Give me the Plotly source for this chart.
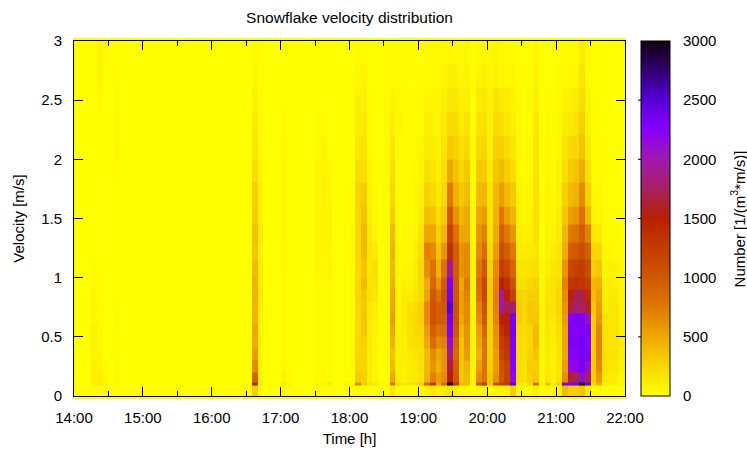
import plotly.graph_objects as go
from datetime import datetime, timedelta

# Velocity band edges in m/s
velocity_edges = [-0.0125, 0.0875, 0.1125, 0.2, 0.3, 0.4, 0.5, 0.6, 0.7, 0.8, 0.9, 1.0, 1.15, 1.3, 1.45, 1.6, 1.8, 2.0, 2.2, 2.4, 2.6, 2.8, 3.0125]
n_columns = 96
start = datetime(2020, 1, 1, 14, 0)
time_edges = [(start + timedelta(minutes=5 * i)).strftime("%Y-%m-%d %H:%M") for i in range(n_columns + 1)]

# Column index (5 minute bins from 14:00) -> number per velocity band, bottom to top
columns = {
    3: [10,90,100,90,70,80,80,40,60,50,30,20,15,15,10,10,8,8,8,10,10,5],
    4: [10,110,120,80,60,50,30,30,25,20,15,15,12,10,10,10,10,10,15,30,60,70],
    5: [5,80,50,20,15,10,5,5,5,5,5,5,5,5,5,5,5,5,5,5,10,30],
    7: [5,50,45,25,20,20,20,30,20,15,10,10,10,10,10,15,20,55,40,30,20,10],
    31: [300,1450,900,650,550,480,500,450,420,450,450,400,350,380,320,300,220,150,130,80,50,30],
    32: [30,130,90,80,70,70,80,90,110,130,120,120,100,120,100,110,60,30,25,25,15,10],
    36: [20,130,70,40,30,30,30,30,30,30,30,40,40,60,60,70,70,50,30,15,10,5],
    37: [5,80,25,10,10,5,5,5,5,5,5,5,5,5,5,5,5,5,5,5,5,5],
    42: [5,60,30,25,25,25,30,30,30,35,40,50,60,60,60,60,50,30,20,10,5,5],
    43: [5,90,50,40,35,35,40,40,40,40,40,60,70,80,80,90,80,60,20,10,5,5],
    44: [5,130,40,25,25,25,30,30,25,25,30,60,50,60,70,50,40,10,5,5,5,5],
    47: [5,60,15,10,5,5,5,5,5,5,5,10,20,15,10,5,5,5,5,5,5,5],
    48: [5,50,30,30,30,30,30,30,30,30,30,30,30,30,20,20,15,10,10,5,5,5],
    49: [40,650,300,280,260,250,240,230,250,260,250,240,250,250,260,270,220,150,120,90,50,30],
    50: [20,300,280,260,260,280,350,350,320,350,400,350,400,420,350,300,220,180,130,100,60,30],
    51: [5,180,130,120,120,130,130,140,150,200,180,150,180,150,100,80,60,40,30,20,10,5],
    52: [5,120,70,60,60,70,80,80,100,150,180,200,130,60,40,30,20,15,10,10,5,5],
    53: [5,30,15,10,10,10,10,10,10,10,10,5,5,5,5,5,5,5,5,5,5,5],
    54: [5,30,20,20,30,30,30,30,30,30,30,30,30,30,30,30,30,30,25,20,20,10],
    55: [150,800,500,400,350,450,500,550,500,500,450,400,450,400,300,250,200,150,100,60,30,20],
    56: [30,250,120,100,90,90,90,80,70,60,60,60,60,50,40,30,25,30,40,40,35,25],
    57: [20,170,90,90,100,100,110,130,130,120,90,70,50,40,30,25,25,25,30,25,20,20],
    58: [20,180,110,120,130,180,180,200,180,120,80,60,40,30,25,20,20,20,20,15,10,10],
    59: [30,220,140,150,170,200,230,230,210,160,130,120,100,80,60,50,40,30,25,20,15,10],
    60: [30,320,180,200,200,210,250,280,270,230,240,250,210,170,120,90,70,50,40,30,20,15],
    61: [80,900,450,400,400,500,550,650,650,520,480,620,700,500,380,280,200,130,100,70,40,30],
    62: [150,1300,700,600,650,850,950,1050,1050,1000,900,800,650,500,350,230,170,120,90,70,40,30],
    63: [80,500,550,450,500,650,800,950,950,800,600,450,350,280,220,150,110,90,70,60,40,25],
    64: [120,900,650,600,600,700,850,950,1000,1050,950,800,600,420,320,240,200,170,130,100,60,40],
    65: [200,3000,1500,1650,1850,2100,2300,2350,2500,2350,2300,1900,1350,1200,1000,750,500,320,230,150,90,50],
    66: [80,1300,1000,950,850,900,1000,1050,1050,1000,1000,950,950,800,600,450,350,280,220,150,90,40],
    67: [50,450,350,350,350,350,420,500,550,550,500,600,600,500,400,320,260,200,130,90,50,30],
    68: [50,400,400,450,550,600,600,650,650,700,750,650,650,500,500,400,320,240,180,110,70,40],
    69: [15,80,80,80,70,70,70,70,60,60,60,60,55,50,40,30,30,30,25,20,15,10],
    70: [40,1050,650,550,450,500,550,650,700,800,850,750,650,600,500,400,320,240,180,130,70,30],
    71: [70,1300,800,800,800,800,900,1000,1050,1150,1150,1000,850,700,550,420,320,260,200,150,100,50],
    72: [30,350,350,300,280,280,280,290,300,320,320,290,250,200,170,170,140,110,90,80,60,45],
    73: [50,1100,600,550,550,600,620,680,700,720,700,650,550,480,440,400,340,280,220,180,100,60],
    74: [60,1250,1000,1050,1150,1250,1350,1500,2000,2000,1500,1250,1100,950,750,550,400,280,200,130,60,30],
    75: [60,1300,1200,1200,1300,1350,1450,1500,1700,1500,1350,1150,950,750,550,400,300,220,150,100,50,30],
    76: [300,2450,2150,2250,2300,2300,2350,2350,1800,1200,1050,900,750,600,450,320,230,150,100,70,40,20],
    77: [30,150,220,220,230,230,240,300,300,280,200,170,140,110,90,70,50,40,40,30,20,15],
    78: [15,120,180,180,190,200,220,230,250,250,200,170,120,90,60,45,30,20,15,15,10,10],
    79: [40,250,280,300,270,250,260,330,330,280,240,180,140,100,80,60,40,30,25,25,15,10],
    80: [100,850,330,300,350,400,400,350,310,290,280,200,170,200,190,180,170,160,140,100,70,50],
    81: [10,60,50,50,55,60,65,75,75,70,60,50,30,20,15,10,10,5,5,5,5,5],
    82: [40,380,150,130,130,150,160,170,180,170,150,110,90,80,70,60,50,40,30,20,15,10],
    83: [20,130,90,90,100,110,120,140,170,170,170,150,110,70,50,30,20,15,10,8,5,5],
    84: [60,280,180,170,180,190,210,230,260,250,220,180,160,130,110,90,80,60,50,40,25,15],
    85: [400,2300,650,550,500,500,500,550,600,650,700,600,480,420,330,280,210,170,120,80,40,20],
    86: [300,2300,1600,2150,2250,2300,2300,2250,1650,1500,1300,1150,950,750,550,400,320,240,150,100,50,30],
    87: [300,2350,1700,2200,2250,2300,2250,2300,1800,1700,1350,1200,1000,800,600,450,360,260,180,120,60,30],
    88: [350,3000,2100,2300,2300,2350,2300,2300,1750,1700,1300,1250,1100,950,800,650,480,360,280,220,170,120],
    89: [150,2400,1800,2100,2300,2250,2300,2100,1600,1400,1250,1100,950,700,420,280,200,130,90,60,30,20],
    90: [40,250,300,300,300,300,300,300,320,400,420,300,250,150,80,60,40,30,20,15,10,5],
    91: [50,450,550,650,700,700,680,600,550,500,450,350,250,130,70,50,30,20,15,10,5,5],
    92: [15,100,130,180,200,200,200,170,130,100,90,70,50,30,20,15,10,5,5,5,5,5],
    93: [15,100,130,160,170,170,160,150,150,130,110,90,50,30,15,10,5,5,5,5,5,5],
    94: [10,70,110,150,170,180,170,160,150,130,100,70,40,25,15,10,8,5,5,5,5,5],
    95: [10,50,70,90,100,100,90,80,70,60,55,40,25,15,10,8,5,5,5,5,5,5],
}
colour_ticks = [0, 500, 1000, 1500, 2000, 2500, 3000]
velocity_ticks = [0, 0.5, 1, 1.5, 2, 2.5, 3]
velocity_labels = ["0", "0.5", "1", "1.5", "2", "2.5", "3"]

colorscale = [
    [0.0, "#ffff00"], [0.0833, "#f8d800"], [0.1667, "#efa800"], [0.25, "#e07800"],
    [0.3333, "#d05800"], [0.4167, "#c43c00"], [0.5, "#b82000"], [0.5833, "#a82060"],
    [0.6667, "#a018b0"], [0.75, "#8800ff"], [0.8333, "#5500d8"], [0.9167, "#300070"],
    [1.0, "#100010"],
]

n_bands = len(velocity_edges) - 1
z = [[columns.get(c, [0] * n_bands)[b] for c in range(n_columns)] for b in range(n_bands)]

FONT = "Liberation Sans"
fig = go.Figure(go.Heatmap(
    x=time_edges, y=velocity_edges, z=z, zmin=0, zmax=3000, colorscale=colorscale,
    colorbar=dict(
        x=1.0285, xanchor="left", xpad=0, ypad=0, y=0, yanchor="bottom", len=1, thickness=29,
        outlinecolor="black", outlinewidth=1, tickmode="array", tickvals=colour_ticks,
        ticks="outside", ticklen=10, tickcolor="rgba(0,0,0,0)",
        tickfont=dict(family=FONT, size=15, color="black"),
    ),
))

shapes = [dict(type="rect", xref="paper", yref="paper", x0=-0.001, x1=1.001, y0=-0.0085, y1=1.0085,
               fillcolor="#ffff00", line_width=0, layer="below")]
bar_left, bar_right, bar_tick = 1.0236, 1.0762, 0.0127
for t in colour_ticks[1:-1]:
    p = t / 3000
    shapes.append(dict(type="line", xref="paper", yref="paper", x0=bar_left, x1=bar_left + bar_tick, y0=p, y1=p, line=dict(color="black", width=1)))
    shapes.append(dict(type="line", xref="paper", yref="paper", x0=bar_right - bar_tick, x1=bar_right, y0=p, y1=p, line=dict(color="black", width=1)))

fig.update_layout(
    width=747, height=451, margin=dict(l=73.5, r=122, t=41, b=55, autoexpand=False),
    paper_bgcolor="white", plot_bgcolor="#ffff00",
    font=dict(family=FONT, size=15, color="black"),
    title=dict(text="Snowflake velocity distribution", x=349.5 / 747, xanchor="center", y=1 - 18 / 451, yanchor="middle",
               font=dict(family=FONT, size=15.5)),
    shapes=shapes,
    annotations=[dict(text="Number [1/(m<sup>3</sup>*m/s)]", textangle=-90, xref="paper", yref="paper",
                      x=1.2049, y=0.5, xanchor="center", yanchor="middle", showarrow=False,
                      font=dict(family=FONT, size=15, color="black"))],
)
fig.update_xaxes(
    type="date", range=["2020-01-01 14:00", "2020-01-01 22:00"], dtick=3600000, tick0="2020-01-01 14:00",
    tickformat="%H:%M", ticks="inside", ticklen=9, tickcolor="black", mirror="allticks",
    showline=True, linecolor="black", linewidth=1, showgrid=False, zeroline=False, automargin=False,
    minor=dict(dtick=1800000, ticks="inside", ticklen=5, tickcolor="black", showgrid=False),
    tickfont=dict(family=FONT, size=15), ticklabelstandoff=8,
    title=dict(text="Time [h]", standoff=8, font=dict(family=FONT, size=15)),
)
fig.update_yaxes(
    range=[0, 3], tickmode="array", tickvals=velocity_ticks, ticktext=velocity_labels,
    ticks="inside", ticklen=9, tickcolor="black", mirror="allticks",
    showline=True, linecolor="black", linewidth=1, showgrid=False, zeroline=False, automargin=False,
    tickfont=dict(family=FONT, size=15), ticklabelstandoff=8,
    title=dict(text="Velocity [m/s]", standoff=12, font=dict(family=FONT, size=15)),
)
fig.write_html("out.html", config={"displayModeBar": False},
               post_script="document.body.style.margin='0';document.documentElement.style.overflow='hidden';")
